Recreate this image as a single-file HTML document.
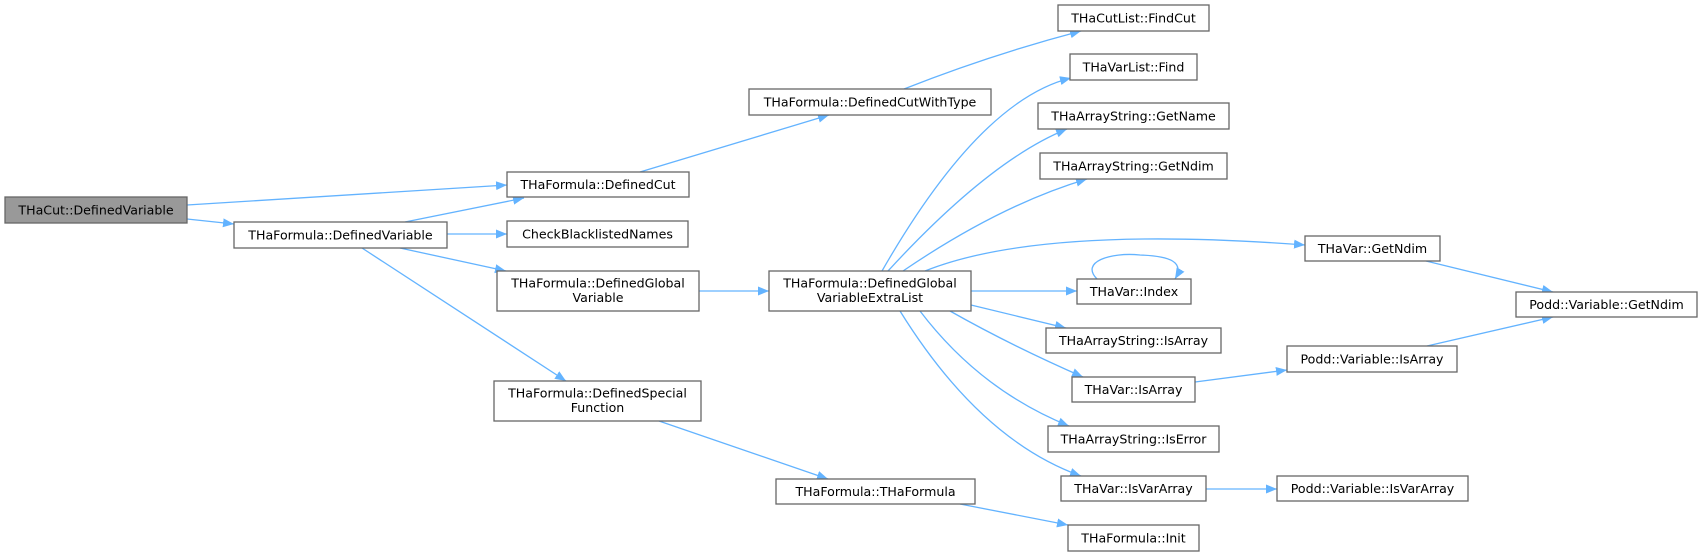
<!DOCTYPE html>
<html><head><meta charset="utf-8"><style>
html,body{margin:0;padding:0;background:#fff}
svg{display:block}
text{font-family:"DejaVu Sans","Liberation Sans",sans-serif;font-size:12.6px;fill:#000}
.n{fill:#fff;stroke:#666;stroke-width:1.3}
.e{fill:none;stroke:#63b3ff;stroke-width:1.3}
</style></head><body>
<svg width="1703" height="556" viewBox="0 0 1703 556" xmlns="http://www.w3.org/2000/svg">
<defs><marker id="a" markerUnits="userSpaceOnUse" markerWidth="12" markerHeight="10" refX="11" refY="5" orient="auto"><path d="M0,0.5 L11,5 L0,9.5z" fill="#63b3ff"/></marker></defs>
<g class="e" marker-end="url(#a)">
<path d="M187,205 L507,185"/>
<path d="M187,219 L234,224"/>
<path d="M405,222 L524,198"/>
<path d="M447,234 L507,234"/>
<path d="M400,248 L506,271"/>
<path d="M362,248 L566,381"/>
<path d="M640,172 L829,115"/>
<path d="M904,89 Q990,55 1081,31"/>
<path d="M699,291 L769,291"/>
<path d="M882,271 Q980,100 1071,78"/>
<path d="M888,271 Q990,160 1067,129"/>
<path d="M903,271 Q1000,205 1087,179"/>
<path d="M925,271 Q1040,225 1305,245"/>
<path d="M971,291 L1077,291"/>
<path d="M1097,279 C1080,262 1110,252 1140,255 C1170,256 1185,262 1175,279"/>
<path d="M971,305 L1066,328"/>
<path d="M950,311 Q1010,345 1083,377"/>
<path d="M920,311 Q980,390 1069,426"/>
<path d="M900,311 Q980,440 1081,476"/>
<path d="M1426,261 L1553,292"/>
<path d="M1195,382 L1287,370"/>
<path d="M1427,346 L1553,317"/>
<path d="M1206,489 L1277,489"/>
<path d="M659,421 L828,479"/>
<path d="M960,504 L1068,525"/>
</g>
<rect x="5" y="197" width="182" height="26" fill="#999" stroke="#666" stroke-width="1.3"/>
<text x="96" y="214.5" text-anchor="middle">THaCut::DefinedVariable</text>
<g class="n">
<rect x="234" y="222" width="213" height="26"/>
<rect x="507" y="172" width="182" height="25"/>
<rect x="507" y="221" width="181" height="26"/>
<rect x="497" y="271" width="202" height="40"/>
<rect x="494" y="381" width="207" height="40"/>
<rect x="776" y="479" width="199" height="25"/>
<rect x="769" y="271" width="202" height="40"/>
<rect x="749" y="89" width="242" height="26"/>
<rect x="1058" y="5" width="151" height="26"/>
<rect x="1070" y="54" width="127" height="26"/>
<rect x="1038" y="103" width="191" height="26"/>
<rect x="1040" y="153" width="187" height="26"/>
<rect x="1305" y="236" width="135" height="25"/>
<rect x="1077" y="279" width="114" height="25"/>
<rect x="1046" y="328" width="175" height="25"/>
<rect x="1072" y="377" width="123" height="25"/>
<rect x="1048" y="426" width="171" height="26"/>
<rect x="1061" y="476" width="145" height="25"/>
<rect x="1068" y="525" width="131" height="26"/>
<rect x="1287" y="346" width="170" height="26"/>
<rect x="1277" y="476" width="191" height="25"/>
<rect x="1516" y="292" width="181" height="25"/>
</g>
<g text-anchor="middle">
<text x="340.5" y="239.5">THaFormula::DefinedVariable</text>
<text x="598" y="189">THaFormula::DefinedCut</text>
<text x="597.5" y="238.5">CheckBlacklistedNames</text>
<text x="598" y="287.5">THaFormula::DefinedGlobal</text>
<text x="598" y="302">Variable</text>
<text x="597.5" y="397.5">THaFormula::DefinedSpecial</text>
<text x="597.5" y="412">Function</text>
<text x="875.5" y="496">THaFormula::THaFormula</text>
<text x="870" y="287.5">THaFormula::DefinedGlobal</text>
<text x="870" y="302">VariableExtraList</text>
<text x="870" y="106.5">THaFormula::DefinedCutWithType</text>
<text x="1133.5" y="22.5">THaCutList::FindCut</text>
<text x="1133.5" y="71.5">THaVarList::Find</text>
<text x="1133.5" y="120.5">THaArrayString::GetName</text>
<text x="1133.5" y="170.5">THaArrayString::GetNdim</text>
<text x="1372.5" y="253">THaVar::GetNdim</text>
<text x="1134" y="296">THaVar::Index</text>
<text x="1133.5" y="345">THaArrayString::IsArray</text>
<text x="1133.5" y="394">THaVar::IsArray</text>
<text x="1133.5" y="443.5">THaArrayString::IsError</text>
<text x="1133.5" y="493">THaVar::IsVarArray</text>
<text x="1133.5" y="542.5">THaFormula::Init</text>
<text x="1372" y="363.5">Podd::Variable::IsArray</text>
<text x="1372.5" y="493">Podd::Variable::IsVarArray</text>
<text x="1606.5" y="309">Podd::Variable::GetNdim</text>
</g>
</svg>
</body></html>
